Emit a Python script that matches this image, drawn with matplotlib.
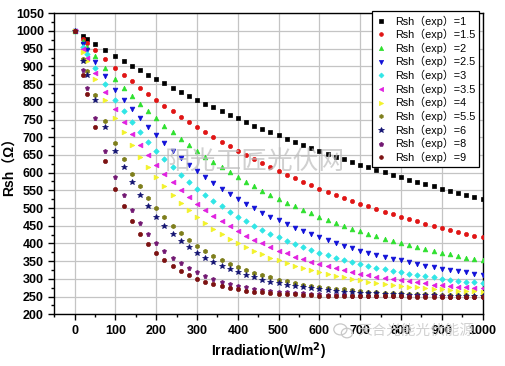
import matplotlib
matplotlib.use('Agg')
import matplotlib.pyplot as plt
from matplotlib.patches import Ellipse

plt.rcParams['font.family'] = ['Liberation Sans', 'Noto Sans CJK SC', 'DejaVu Sans']

# irradiation (W/m2) for every point
irradiation = [0, 20, 30, 50, 75, 100, 120, 140, 160, 180, 200, 220, 240, 260, 280,
               300, 320, 340, 360, 380, 400, 420, 440, 460, 480, 500, 520, 540, 560,
               580, 600, 620, 640, 660, 680, 700, 720, 740, 760, 780, 800, 820, 840,
               860, 880, 900, 920, 940, 960, 980, 1000]

# Rsh values, one list per exponent
rsh_1 = [1000, 985, 978, 963, 946, 929, 915, 902, 889, 876, 864, 852, 840, 828, 817,
         806, 795, 784, 773, 763, 753, 743, 733, 723, 714, 705, 696, 687, 678, 670,
         662, 653, 645, 638, 630, 622, 615, 608, 601, 594, 587, 580, 574, 567, 561,
         555, 549, 543, 537, 531, 526]
rsh_1_5 = [1000, 978, 967, 946, 920, 896, 876, 858, 840, 823, 806, 789, 773, 758, 743,
           728, 714, 700, 687, 674, 662, 649, 638, 626, 615, 604, 594, 584, 574, 564,
           555, 546, 537, 529, 520, 512, 505, 497, 490, 483, 476, 469, 463, 456, 450,
           444, 439, 433, 428, 422, 417]
rsh_2 = [1000, 971, 956, 929, 896, 864, 840, 817, 795, 773, 753, 733, 714, 696, 678,
         662, 645, 630, 615, 601, 587, 574, 561, 549, 537, 526, 515, 505, 495, 485,
         476, 467, 459, 450, 442, 435, 428, 421, 414, 408, 401, 395, 390, 384, 379,
         374, 369, 364, 360, 356, 352]
rsh_2_5 = [1000, 963, 946, 912, 872, 834, 806, 779, 753, 728, 705, 683, 662, 642, 622,
           604, 587, 571, 555, 540, 526, 512, 500, 487, 476, 465, 454, 444, 435, 426,
           417, 409, 401, 394, 387, 380, 374, 368, 362, 357, 352, 347, 342, 337, 333,
           329, 325, 322, 318, 315, 312]
rsh_3 = [1000, 956, 935, 896, 849, 806, 773, 743, 714, 687, 662, 638, 615, 594, 574,
         555, 537, 520, 505, 490, 476, 463, 450, 439, 428, 417, 408, 398, 390, 382,
         374, 367, 360, 354, 348, 342, 336, 331, 327, 322, 318, 314, 310, 307, 304,
         300, 297, 295, 292, 290, 287]
rsh_3_5 = [1000, 949, 925, 880, 827, 779, 743, 709, 678, 649, 622, 597, 574, 552, 531,
           512, 495, 478, 463, 448, 435, 422, 411, 400, 390, 380, 372, 363, 356, 349,
           342, 336, 330, 324, 319, 315, 310, 306, 302, 299, 296, 293, 290, 287, 284,
           282, 280, 278, 276, 274, 273]
rsh_4 = [1000, 942, 915, 864, 806, 753, 714, 678, 645, 615, 587, 561, 537, 515, 495,
         476, 459, 442, 428, 414, 401, 390, 379, 369, 360, 352, 344, 336, 330, 324,
         318, 313, 308, 304, 299, 296, 292, 289, 286, 283, 281, 278, 276, 274, 272,
         270, 269, 267, 266, 265, 264]
rsh_5_5 = [1000, 922, 886, 820, 746, 683, 638, 597, 561, 529, 500, 474, 450, 429, 411,
           394, 379, 366, 354, 343, 333, 324, 317, 310, 304, 298, 293, 288, 284, 281,
           278, 275, 272, 270, 268, 266, 264, 263, 261, 260, 259, 258, 257, 257, 256,
           255, 255, 254, 254, 253, 253]
rsh_6 = [1000, 915, 876, 806, 728, 662, 615, 574, 537, 505, 476, 450, 428, 408, 390,
         374, 360, 348, 336, 327, 318, 310, 304, 297, 292, 287, 283, 279, 276, 273,
         270, 268, 266, 264, 263, 261, 260, 259, 258, 257, 256, 255, 255, 254, 254,
         253, 253, 253, 252, 252, 252]
rsh_8 = [1000, 889, 840, 753, 662, 587, 537, 495, 459, 428, 401, 379, 360, 344, 330,
         318, 308, 299, 292, 286, 281, 276, 272, 269, 266, 264, 262, 260, 259, 257,
         256, 255, 254, 254, 253, 253, 252, 252, 252, 251, 251, 251, 251, 251, 251,
         251, 250, 250, 250, 250, 250]
rsh_9 = [1000, 876, 823, 728, 632, 555, 505, 463, 428, 398, 374, 354, 336, 322, 310,
         300, 292, 285, 279, 275, 270, 267, 264, 262, 260, 258, 257, 256, 255, 254,
         253, 253, 252, 252, 252, 251, 251, 251, 251, 251, 251, 250, 250, 250, 250,
         250, 250, 250, 250, 250, 250]

labels = ['1', '1.5', '2', '2.5', '3', '3.5', '4', '5.5', '6', '8', '9']
series = [rsh_1, rsh_1_5, rsh_2, rsh_2_5, rsh_3, rsh_3_5, rsh_4, rsh_5_5, rsh_6, rsh_8, rsh_9]
colors = ['#000000', '#e01515', '#2ee02e', '#1010d8', '#30e6e6', '#e020e0',
          '#f2f22a', '#7e7e1c', '#101070', '#721872', '#7c1212']
markers = ['s', 'o', '^', 'v', 'D', '<', '>', 'h', '*', 'p', 'o']
sizes = [2.8, 3.0, 3.4, 3.4, 2.8, 3.4, 3.4, 3.2, 4.3, 3.6, 3.0]

fig = plt.figure(figsize=(5.05, 3.66), dpi=100)
ax = fig.add_axes([0.1075, 0.1413, 0.848, 0.8224])

for vals, lab, c, m, s in zip(series, labels, colors, markers, sizes):
    ax.plot(irradiation, vals, ls='none', marker=m, ms=s, mfc=c, mec=c, mew=0.5,
            label='Rsh（exp）=' + lab, zorder=3)

ax.set_xlim(-50, 1000)
ax.set_ylim(200, 1050)
ax.set_xticks(range(0, 1001, 100))
ax.set_xticks(range(-50, 1001, 50), minor=True)
ax.set_yticks(range(200, 1051, 50))
ax.set_yticks(range(200, 1051, 25), minor=True)
ax.grid(True, which='major', color='#c4c4c4', lw=0.9, zorder=0)
ax.set_axisbelow(True)

ax.tick_params(which='major', direction='out', length=4.5, width=1, pad=3)
ax.tick_params(which='minor', direction='out', length=2.5, width=1)
for t in ax.get_xticklabels() + ax.get_yticklabels():
    t.set_fontweight('bold')
    t.set_fontsize(9)
for sp in ax.spines.values():
    sp.set_linewidth(1)

ax.set_xlabel('Irradiation(W/m$^\\mathbf{2}$)', fontsize=10, fontweight='bold', labelpad=3)
ax.set_ylabel('Rsh（Ω）', fontsize=10, fontweight='bold')
ax.yaxis.set_label_coords(-0.088, 0.5)

leg = ax.legend(loc='upper right', bbox_to_anchor=(0.992, 1.006), fontsize=7.8,
                frameon=True, fancybox=False, framealpha=1, edgecolor='black',
                handlelength=1.0, handletextpad=0.8, labelspacing=0.22,
                borderpad=0.35, borderaxespad=0, markerscale=0.9)
leg.get_frame().set_linewidth(0.9)
leg.set_zorder(5)

# watermarks
fig.text(0.505, 0.557, '阳光工匠光伏网', fontsize=18.5, color='#bcbcbc', alpha=0.7,
         ha='center', va='center', family=['Noto Sans CJK SC'], zorder=10)
fig.text(0.823, 0.096, '天合光能光伏能源', fontsize=10.5, color='#cccccc', alpha=0.9,
         ha='center', va='center', family=['Noto Sans CJK SC'], zorder=10)
fig.patches.append(Ellipse((0.674, 0.100), 0.026, 0.030, transform=fig.transFigure,
                           fill=False, ec='#c8c8c8', lw=0.9))
fig.patches.append(Ellipse((0.687, 0.090), 0.022, 0.026, transform=fig.transFigure,
                           fill=False, ec='#c8c8c8', lw=0.9))

fig.savefig('out.png', dpi=100)
